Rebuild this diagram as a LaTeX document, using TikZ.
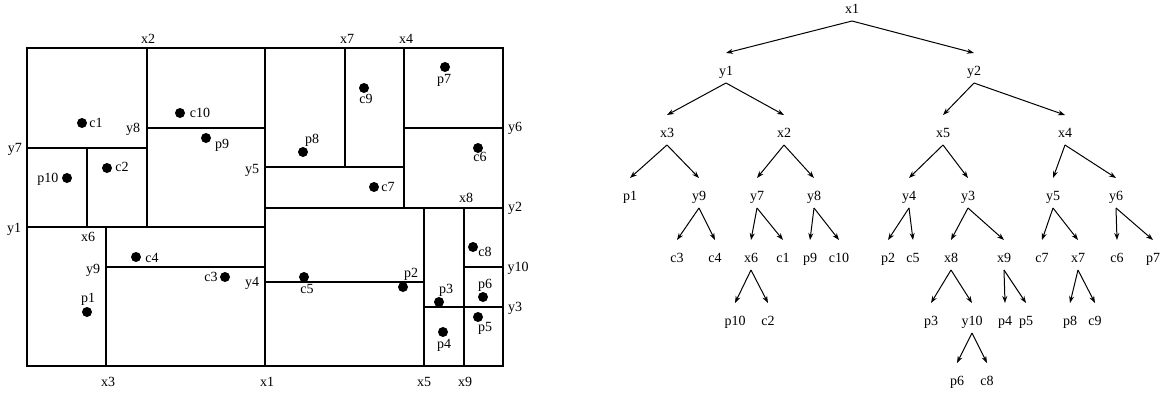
\documentclass[tikz,border=0pt]{standalone}
\usepackage{fontspec}
\setmainfont{Liberation Serif}
\usetikzlibrary{arrows.meta}
\begin{document}
\begin{tikzpicture}[x=1pt,y=-1pt,
  lbl/.style={font=\fontsize{14}{16}\selectfont, inner sep=0pt, text height=9pt, text depth=3pt},
  dot/.style={circle, fill=black, inner sep=0pt, minimum size=10pt},
  cut/.style={line width=1.1pt},
  arr/.style={line width=1pt, -{Stealth[length=7pt,width=5pt]}}]
\useasboundingbox (0,0) rectangle (1163,394);

% ---------------- partition of the plane ----------------
\draw[cut] (27,48) rectangle (503,366);
\draw[cut] (265,48) -- (265,366);   % x1
\draw[cut] (147,48) -- (147,227);   % x2
\draw[cut] (27,227) -- (265,227);   % y1
\draw[cut] (27,148) -- (147,148);   % y7
\draw[cut] (87,148) -- (87,227);    % x6
\draw[cut] (147,128) -- (265,128);  % y8
\draw[cut] (106,227) -- (106,366);  % x3
\draw[cut] (106,267) -- (265,267);  % y9
\draw[cut] (265,208) -- (503,208);  % y2
\draw[cut] (404,48) -- (404,208);   % x4
\draw[cut] (265,167) -- (404,167);  % y5
\draw[cut] (345,48) -- (345,167);   % x7
\draw[cut] (404,128) -- (503,128);  % y6
\draw[cut] (424,208) -- (424,366);  % x5
\draw[cut] (265,282) -- (424,282);  % y4
\draw[cut] (424,307) -- (503,307);  % y3
\draw[cut] (464,208) -- (464,307);  % x8
\draw[cut] (464,307) -- (464,366);  % x9
\draw[cut] (464,267) -- (503,267);  % y10

% splitting-line labels
\node[lbl] (lx2) at (148,40) {x2};
\node[lbl] (lx7) at (347,40) {x7};
\node[lbl] (lx4) at (406,40) {x4};
\node[lbl] (ly7) at (15,149) {y7};
\node[lbl] (ly8) at (133,129) {y8};
\node[lbl] (ly5) at (252,170) {y5};
\node[lbl] (ly6) at (515,128) {y6};
\node[lbl] (ly2) at (515,208) {y2};
\node[lbl] (lx8) at (466,199) {x8};
\node[lbl] (ly1) at (14,229) {y1};
\node[lbl] (lx6) at (88,238) {x6};
\node[lbl] (ly9) at (93,270) {y9};
\node[lbl] (ly4) at (252,283) {y4};
\node[lbl] (ly10) at (518,268) {y10};
\node[lbl] (ly3) at (515,308) {y3};
\node[lbl] (lx3) at (108,383) {x3};
\node[lbl] (lx1) at (267,383) {x1};
\node[lbl] (lx5) at (424,383) {x5};
\node[lbl] (lx9) at (465,383) {x9};

% data points
\node[dot] (dc1) at (82,123) {};   \node[lbl] at (96,124) {c1};
\node[dot] (dc2) at (107,168) {};  \node[lbl] at (122,168) {c2};
\node[dot] (dp10) at (67,178) {};  \node[lbl] at (48,179) {p10};
\node[dot] (dc10) at (180,113) {}; \node[lbl] at (200,114) {c10};
\node[dot] (dp9) at (206,138) {};  \node[lbl] at (222,145) {p9};
\node[dot] (dp8) at (303,152) {};  \node[lbl] at (312,140) {p8};
\node[dot] (dc9) at (364,88) {};   \node[lbl] at (366,100) {c9};
\node[dot] (dp7) at (445,67) {};   \node[lbl] at (444,80) {p7};
\node[dot] (dc6) at (478,148) {};  \node[lbl] at (480,158) {c6};
\node[dot] (dc7) at (374,187) {};  \node[lbl] at (388,188) {c7};
\node[dot] (dc4) at (136,257) {};  \node[lbl] at (152,259) {c4};
\node[dot] (dc3) at (225,277) {};  \node[lbl] at (211,278) {c3};
\node[dot] (dp1) at (87,312) {};   \node[lbl] at (88,299) {p1};
\node[dot] (dc5) at (304,277) {};  \node[lbl] at (307,290) {c5};
\node[dot] (dp2) at (403,287) {};  \node[lbl] at (411,274) {p2};
\node[dot] (dp3) at (439,302) {};  \node[lbl] at (446,290) {p3};
\node[dot] (dc8) at (473,247) {};  \node[lbl] at (485,253) {c8};
\node[dot] (dp6) at (483,297) {};  \node[lbl] at (485,285) {p6};
\node[dot] (dp5) at (478,317) {};  \node[lbl] at (485,328) {p5};
\node[dot] (dp4) at (443,332) {};  \node[lbl] at (444,345) {p4};

% ---------------- the tree ----------------
\node[lbl] (tx1) at (852,10) {x1};
\node[lbl] (ty1) at (726,72) {y1};
\node[lbl] (ty2) at (974,72) {y2};
\node[lbl] (tx3) at (667,134) {x3};
\node[lbl] (tx2) at (784,134) {x2};
\node[lbl] (tx5) at (943,134) {x5};
\node[lbl] (tx4) at (1065,134) {x4};
\node[lbl] (tp1) at (630,197) {p1};
\node[lbl] (ty9) at (699,197) {y9};
\node[lbl] (ty7) at (757,197) {y7};
\node[lbl] (ty8) at (814,197) {y8};
\node[lbl] (ty4) at (909,197) {y4};
\node[lbl] (ty3) at (968,197) {y3};
\node[lbl] (ty5) at (1053,197) {y5};
\node[lbl] (ty6) at (1116,197) {y6};
\node[lbl] (tc3) at (677,259) {c3};
\node[lbl] (tc4) at (715,259) {c4};
\node[lbl] (tx6) at (751,259) {x6};
\node[lbl] (tc1) at (783,259) {c1};
\node[lbl] (tp9) at (810,259) {p9};
\node[lbl] (tc10) at (839,259) {c10};
\node[lbl] (tp2) at (888,259) {p2};
\node[lbl] (tc5) at (913,259) {c5};
\node[lbl] (tx8) at (951,259) {x8};
\node[lbl] (tx9) at (1004,259) {x9};
\node[lbl] (tc7) at (1042,259) {c7};
\node[lbl] (tx7) at (1078,259) {x7};
\node[lbl] (tc6) at (1117,259) {c6};
\node[lbl] (tp7) at (1153,259) {p7};
\node[lbl] (tp10) at (735,322) {p10};
\node[lbl] (tc2) at (768,322) {c2};
\node[lbl] (tp3) at (931,322) {p3};
\node[lbl] (ty10) at (972,322) {y10};
\node[lbl] (tp4) at (1005,322) {p4};
\node[lbl] (tp5) at (1026,322) {p5};
\node[lbl] (tp8) at (1070,322) {p8};
\node[lbl] (tc9) at (1095,322) {c9};
\node[lbl] (tp6) at (957,382) {p6};
\node[lbl] (tc8) at (987,382) {c8};

\foreach \a/\b in {x1/y1,x1/y2,y1/x3,y1/x2,y2/x5,y2/x4,
  x3/p1,x3/y9,x2/y7,x2/y8,x5/y4,x5/y3,x4/y5,x4/y6,
  y9/c3,y9/c4,y7/x6,y7/c1,y8/p9,y8/c10,y4/p2,y4/c5,y3/x8,y3/x9,
  y5/c7,y5/x7,y6/c6,y6/p7,x6/p10,x6/c2,x8/p3,x8/y10,x9/p4,x9/p5,
  x7/p8,x7/c9,y10/p6,y10/c8}
  \draw[arr] ([yshift=-11pt]t\a.center) -- ([yshift=19pt]t\b.center);
\end{tikzpicture}
\end{document}
